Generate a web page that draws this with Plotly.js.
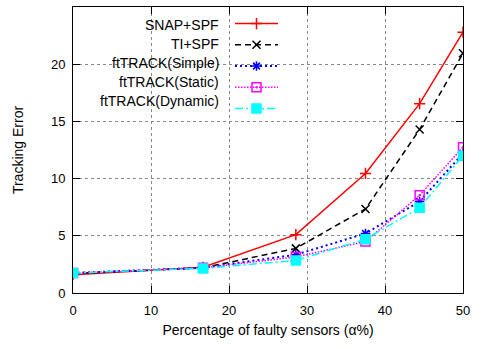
<!DOCTYPE html>
<html>
<head>
<meta charset="utf-8">
<script src="https://cdn.plot.ly/plotly-3.0.1.min.js"></script>
<style>html,body{margin:0;padding:0;background:#fff;}#chart{width:491px;height:349px;}</style>
</head>
<body>
<div id="chart"></div>
<script>
// Data
const faultyPct = [0, 16.67, 28.57, 37.5, 44.44, 50];
const seriesNames = ["SNAP+SPF", "TI+SPF", "ftTRACK(Simple)", "ftTRACK(Static)", "ftTRACK(Dynamic)"];
const snapSpf   = [1.6, 2.25, 5.1, 10.45, 16.55, 22.8];
const tiSpf     = [1.7, 2.2, 3.9, 7.35, 14.3, 20.95];
const ftSimple  = [1.75, 2.2, 3.35, 5.2, 8.0, 12.2];
const ftStatic  = [1.75, 2.2, 3.15, 4.5, 8.55, 12.75];
const ftDynamic = [1.75, 2.15, 2.85, 4.7, 7.45, 12.0];
const xTicks = [0, 10, 20, 30, 40, 50];
const yTicks = [0, 5, 10, 15, 20, 25];

const seriesValues = [snapSpf, tiSpf, ftSimple, ftStatic, ftDynamic];
const styles = [
  {color: '#ff0000', dash: 'solid', width: 1.5, symbol: 'cross-thin-open', size: 8},
  {color: '#000000', dash: '6px,4px', width: 1.5, symbol: 'x-thin-open', size: 8},
  {color: '#0000ff', dash: '2px,3px', width: 2, symbol: 'asterisk-open', size: 8},
  {color: '#ff00ff', dash: '1.5px,1.5px', width: 1.5, symbol: 'square-open-dot', size: 9},
  {color: '#00ffff', dash: '8px,3px,2px,3px', width: 1.5, symbol: 'square', size: 9}
];

const traces = seriesValues.map((vals, i) => ({
  x: faultyPct, y: vals, type: 'scatter', mode: 'lines+markers', name: '',
  line: {color: styles[i].color, dash: styles[i].dash, width: styles[i].width},
  marker: {symbol: styles[i].symbol, size: styles[i].size, color: styles[i].color,
           line: {color: styles[i].color, width: 1.5}}
}));

const plotL = 73, plotR = 463, plotT = 7, plotB = 293;
const W = 491, H = 349;
const pw = plotR - plotL, ph = plotB - plotT;
const px2x = p => (p - plotL) / pw;
const px2y = p => (plotB - p) / ph;

const rowStart = 25, rowGap = 19;
const annotations = seriesNames.map((n, i) => ({
  text: n, xref: 'paper', yref: 'paper', x: px2x(221), y: px2y(rowStart + i * rowGap),
  xanchor: 'right', yanchor: 'middle', showarrow: false,
  font: {family: 'Liberation Sans, Arial, sans-serif', size: 14, color: '#000'}
}));

const axisCommon = {
  showline: true, linecolor: '#000', linewidth: 1, mirror: 'ticks',
  ticks: 'inside', ticklen: 7, tickwidth: 1, tickcolor: '#000',
  showgrid: true, gridcolor: '#888', griddash: 'dot', gridwidth: 1,
  zeroline: false,
  tickfont: {family: 'Liberation Sans, Arial, sans-serif', size: 13, color: '#000'}
};

const layout = {
  width: W, height: H,
  margin: {l: plotL, r: W - plotR, t: plotT, b: H - plotB, pad: 0},
  paper_bgcolor: '#fff', plot_bgcolor: '#fff',
  showlegend: true,
  legend: {x: px2x(230), y: px2y(8), xanchor: 'left', yanchor: 'top', itemwidth: 43,
           bgcolor: 'rgba(255,255,255,0)', borderwidth: 0,
           font: {family: 'Liberation Sans, Arial, sans-serif', size: 14}},
  xaxis: Object.assign({}, axisCommon, {
    range: [0, 50], tickvals: xTicks, ticktext: xTicks.map(String), ticklabelstandoff: 5,
    title: {text: 'Percentage of faulty sensors (α%)', standoff: 8,
            font: {family: 'Liberation Sans, Arial, sans-serif', size: 14, color: '#000'}}
  }),
  yaxis: Object.assign({}, axisCommon, {
    range: [0, 25], tickvals: yTicks, ticktext: yTicks.map(String), ticklabelstandoff: 4,
    title: {text: 'Tracking Error', standoff: 24,
            font: {family: 'Liberation Sans, Arial, sans-serif', size: 14, color: '#000'}}
  }),
  shapes: [{type: 'rect', xref: 'paper', yref: 'paper', layer: 'between',
            x0: px2x(96), x1: px2x(282), y0: px2y(106), y1: px2y(12),
            fillcolor: '#fff', line: {width: 0}}],
  annotations: annotations
};

Plotly.newPlot('chart', traces, layout, {displayModeBar: false, staticPlot: true});
</script>
</body>
</html>
